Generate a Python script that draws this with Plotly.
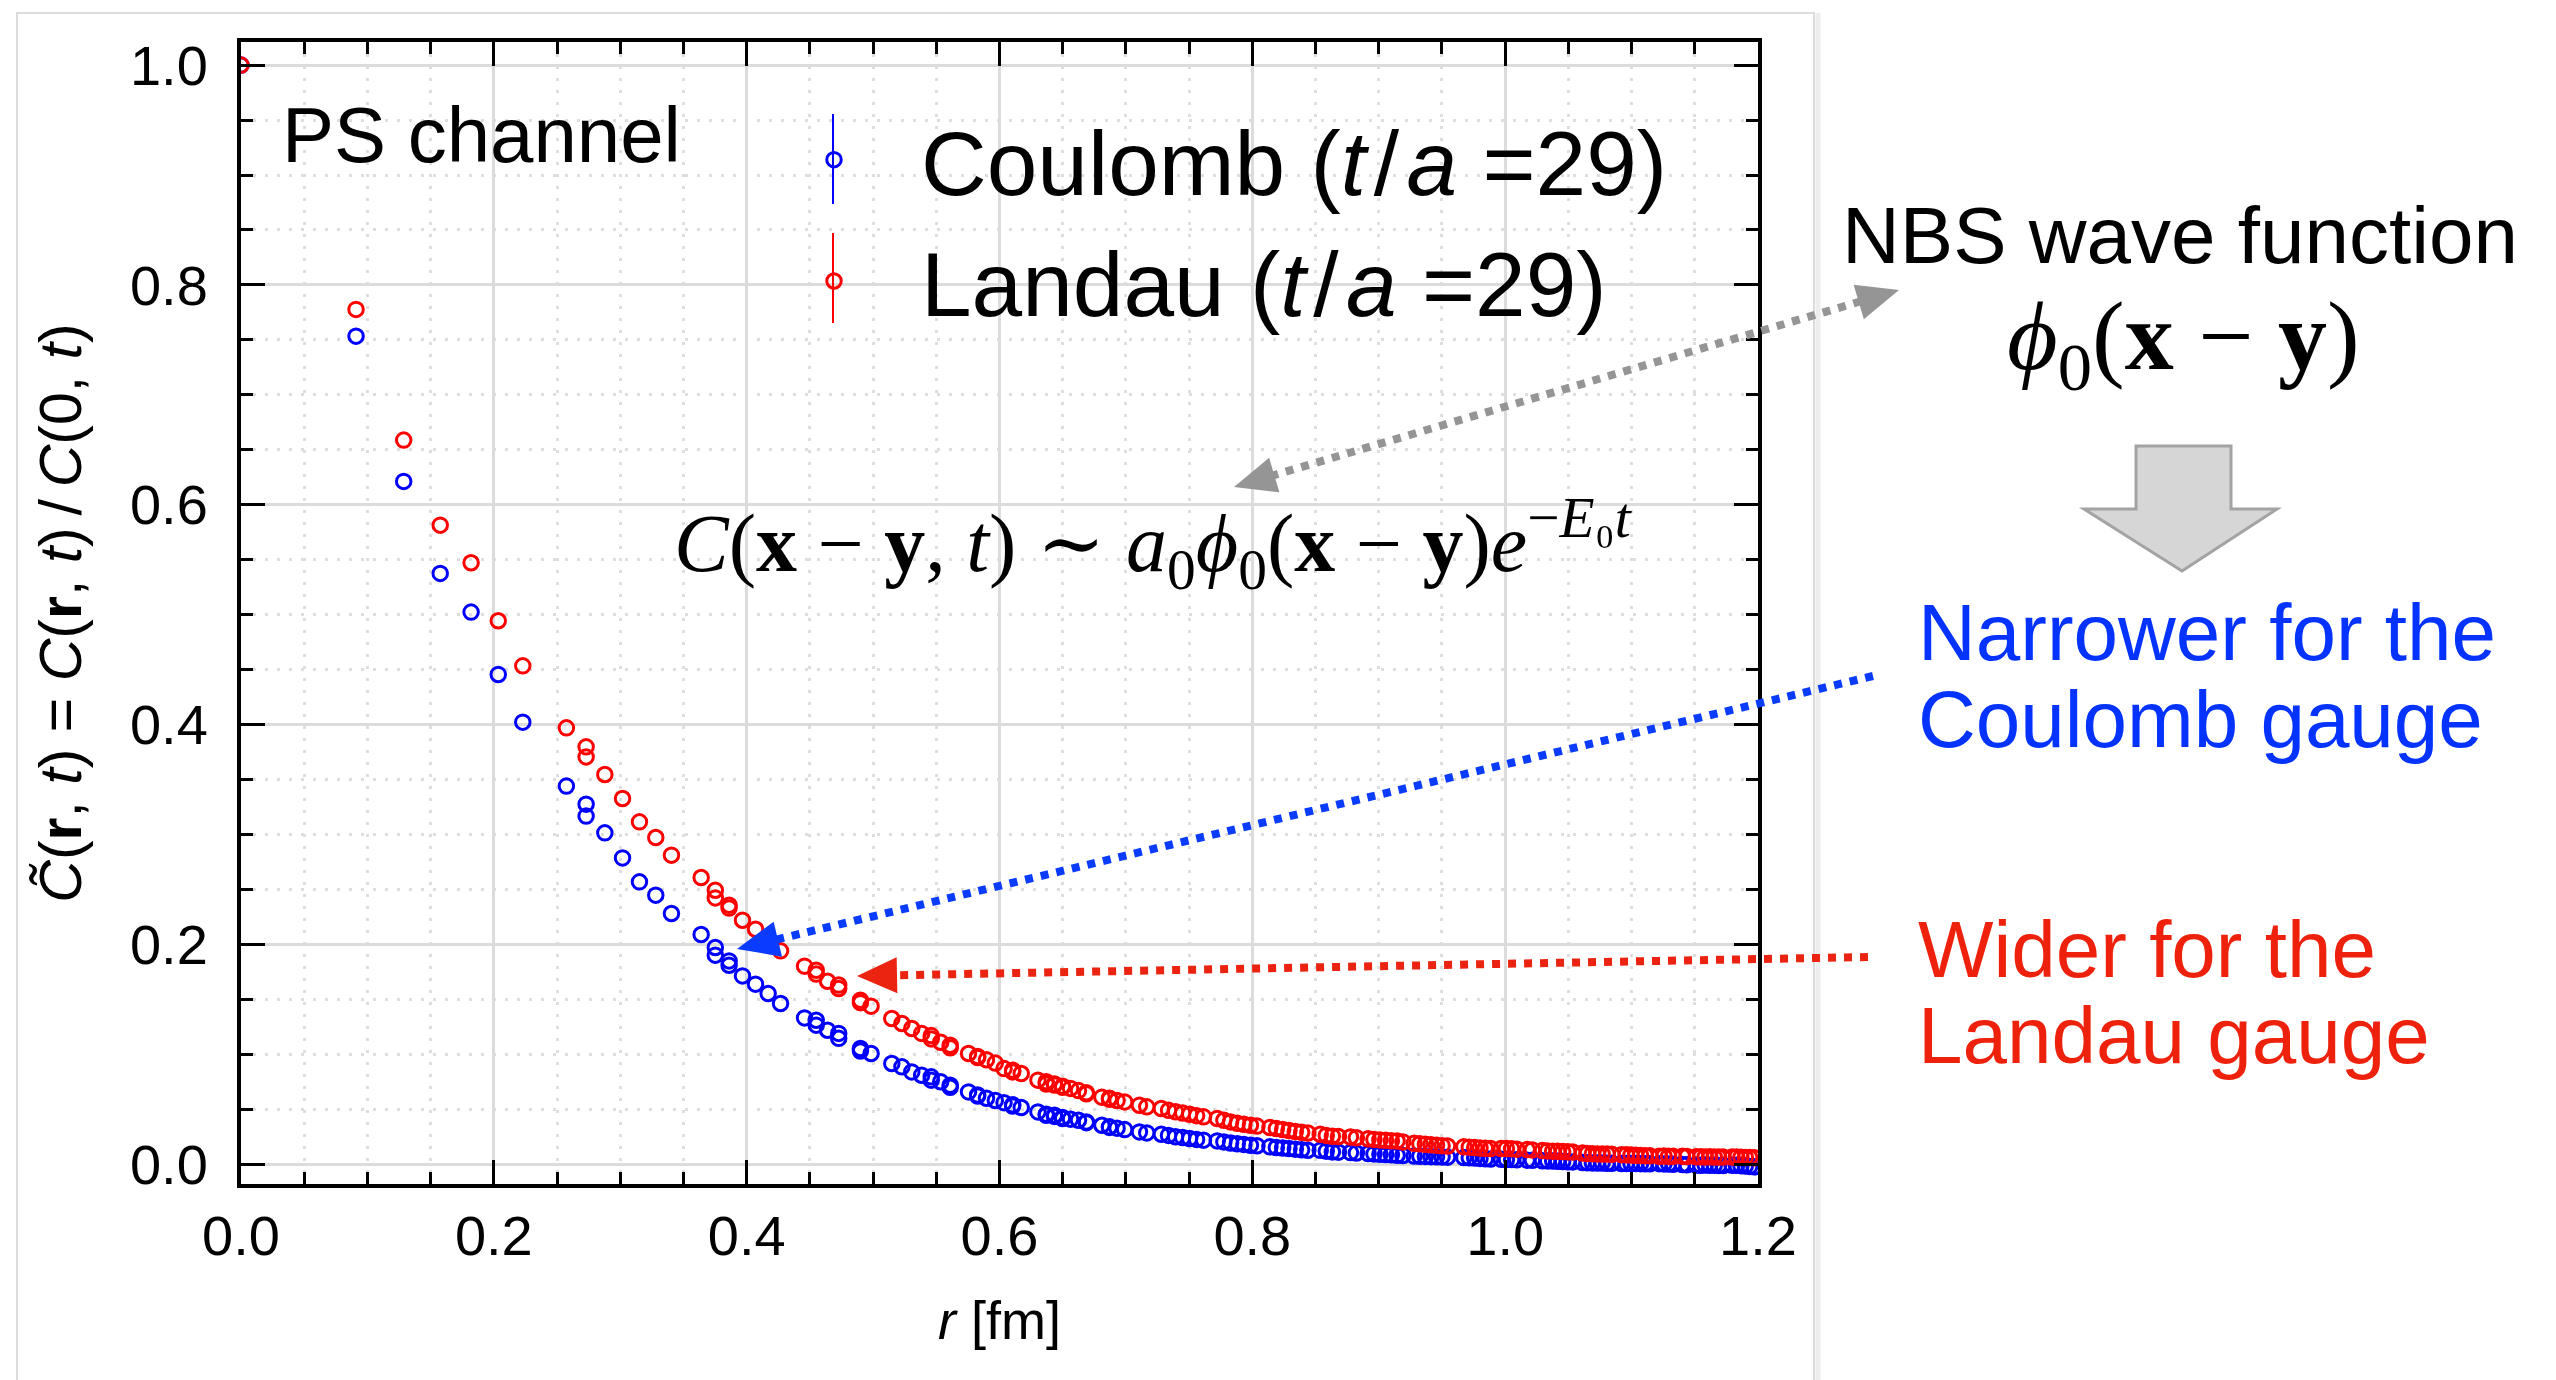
import math
import plotly.graph_objects as go

# ---------------- data ----------------
r_fm = [
    0.0, 0.091, 0.1287, 0.1576, 0.182, 0.2035, 0.2229, 0.2574, 0.273, 0.273,
    0.2878, 0.3018, 0.3152, 0.3281, 0.3405, 0.364, 0.3752, 0.3752, 0.3861, 0.3861,
    0.3967, 0.407, 0.417, 0.4268, 0.4458, 0.455, 0.455, 0.464, 0.4728, 0.4728,
    0.49, 0.49, 0.4984, 0.5148, 0.5228, 0.5306, 0.5384, 0.546, 0.546, 0.5535,
    0.561, 0.561, 0.5755, 0.5827, 0.5827, 0.5897, 0.5967, 0.6036, 0.6104, 0.6104,
    0.6172, 0.6304, 0.637, 0.637, 0.6435, 0.6435, 0.6499, 0.6499, 0.6562, 0.6625,
    0.6687, 0.6687, 0.681, 0.687, 0.687, 0.693, 0.699, 0.7107, 0.7165, 0.728,
    0.7337, 0.7393, 0.7449, 0.7504, 0.7559, 0.7614, 0.7722, 0.7775, 0.7828, 0.7881,
    0.7933, 0.7985, 0.8037, 0.8139, 0.819, 0.824, 0.829, 0.834, 0.839, 0.8439,
    0.8537, 0.8585, 0.8633, 0.8681, 0.8776, 0.8823, 0.8916, 0.8962, 0.9009, 0.9054,
    0.91, 0.9145, 0.9191, 0.928, 0.9325, 0.9369, 0.9413, 0.9457, 0.9501, 0.9544,
    0.9673, 0.9716, 0.9759, 0.9801, 0.9843, 0.9885, 0.9969, 1.001, 1.0051, 1.0092,
    1.0174, 1.0215, 1.0295, 1.0336, 1.0376, 1.0415, 1.0455, 1.0495, 1.0534, 1.0612,
    1.0651, 1.069, 1.0729, 1.0767, 1.0806, 1.0844, 1.092, 1.0958, 1.0995, 1.1033,
    1.1071, 1.1108, 1.1145, 1.1219, 1.1256, 1.1293, 1.1329, 1.1402, 1.1438, 1.1511,
    1.1546, 1.1582, 1.1618, 1.1654, 1.1689, 1.1724, 1.1795, 1.183, 1.1865, 1.19,
    1.1934, 1.1969,
]

landau = [
    1.0, 0.7777, 0.6588, 0.5814, 0.5472, 0.4944, 0.4534, 0.397, 0.3797, 0.3706,
    0.3546, 0.3327, 0.3115, 0.2972, 0.2812, 0.2609, 0.2493, 0.2423, 0.2357, 0.233,
    0.222, 0.2138, 0.2054, 0.1941, 0.1802, 0.1765, 0.173, 0.1665, 0.163, 0.1599,
    0.1492, 0.147, 0.1438, 0.1326, 0.128, 0.1235, 0.119, 0.117, 0.114, 0.111,
    0.1083, 0.106, 0.1007, 0.098, 0.097, 0.095, 0.092, 0.087, 0.0855, 0.084,
    0.0825, 0.0765, 0.075, 0.073, 0.073, 0.072, 0.070, 0.071, 0.069, 0.067,
    0.065, 0.064, 0.061, 0.060, 0.059, 0.058, 0.0567, 0.0537, 0.0522, 0.0507,
    0.049, 0.0477, 0.0466, 0.0455, 0.0442, 0.0431, 0.0416, 0.040, 0.0385, 0.0372,
    0.0364, 0.0355, 0.0347, 0.0334, 0.0325, 0.0316, 0.0307, 0.0298, 0.029, 0.0284,
    0.0273, 0.0262, 0.0255, 0.0252, 0.0248, 0.0241, 0.0232, 0.0226, 0.0221, 0.0217,
    0.0213, 0.0211, 0.0203, 0.019, 0.0186, 0.0182, 0.0177, 0.0173, 0.0169, 0.0166,
    0.0158, 0.0155, 0.0151, 0.0148, 0.0145, 0.0143, 0.0143, 0.0142, 0.014, 0.0137,
    0.0133, 0.013, 0.0124, 0.0121, 0.0119, 0.0117, 0.0115, 0.0113, 0.0111, 0.0102,
    0.0098, 0.0096, 0.0094, 0.0093, 0.0092, 0.009, 0.0087, 0.0085, 0.0083, 0.0082,
    0.008, 0.0078, 0.0076, 0.0073, 0.0074, 0.0072, 0.0073, 0.0072, 0.007, 0.0068,
    0.0067, 0.0066, 0.0067, 0.0066, 0.0065, 0.0066, 0.0065, 0.0066, 0.0063, 0.0062,
    0.006, 0.0059,
]

coulomb = [
    1.0, 0.7534, 0.6212, 0.5375, 0.5023, 0.4456, 0.4022, 0.344, 0.3276, 0.3167,
    0.3015, 0.2787, 0.2569, 0.2448, 0.2281, 0.209, 0.1972, 0.1902, 0.185, 0.181,
    0.1713, 0.1638, 0.1553, 0.1462, 0.1331, 0.131, 0.1265, 0.1219, 0.119, 0.1145,
    0.1053, 0.103, 0.1007, 0.0916, 0.0886, 0.084, 0.081, 0.0795, 0.0765, 0.075,
    0.0719, 0.070, 0.0658, 0.063, 0.062, 0.060, 0.058, 0.056, 0.054, 0.053,
    0.0516, 0.0476, 0.0455, 0.0445, 0.0446, 0.0435, 0.0416, 0.0425, 0.041, 0.040,
    0.0385, 0.0378, 0.0355, 0.034, 0.0335, 0.0328, 0.0315, 0.0294, 0.0285, 0.0273,
    0.0262, 0.025, 0.0242, 0.0234, 0.0226, 0.0219, 0.0212, 0.0203, 0.0193, 0.0186,
    0.018, 0.0173, 0.0168, 0.0158, 0.0152, 0.0147, 0.0142, 0.0137, 0.0132, 0.0127,
    0.0126, 0.0119, 0.0112, 0.011, 0.0106, 0.0102, 0.0097, 0.0094, 0.009, 0.0088,
    0.0085, 0.0082, 0.0079, 0.0074, 0.0073, 0.0071, 0.0069, 0.0067, 0.0066, 0.0064,
    0.0061, 0.0059, 0.0056, 0.0053, 0.005, 0.0048, 0.0045, 0.0043, 0.0042, 0.004,
    0.0037, 0.0035, 0.0032, 0.003, 0.0029, 0.0027, 0.0025, 0.0023, 0.0021, 0.0016,
    0.0013, 0.0012, 0.0011, 0.001, 0.0009, 0.0008, 0.0007, 0.0006, 0.0006, 0.0006,
    0.0005, 0.0004, 0.0004, 0.0005, 0.0003, 0.0002, 0.0, -0.0003, -0.0005, -0.0007,
    -0.0009, -0.0008, -0.001, -0.0009, -0.0011, -0.0012, -0.001, -0.0009, -0.0013, -0.0016,
    -0.002, -0.0024,
]

series_names = ["Coulomb (<i>t</i>\u200a/\u200a<i>a</i> =29)",
                "Landau (<i>t</i>\u200a/\u200a<i>a</i> =29)"]
x_ticks = [0.0, 0.2, 0.4, 0.6, 0.8, 1.0, 1.2]
y_ticks = [0.0, 0.2, 0.4, 0.6, 0.8, 1.0]

# ---------------- layout helpers ----------------
W, H = 2556, 1380
PL, PR, PT, PB = 241, 1758, 42, 1184
SANS = "Liberation Sans, Arial, Helvetica, sans-serif"
SERIF = "Liberation Serif, Times New Roman, DejaVu Serif, serif"


def px(x):
    return (x - PL) / (PR - PL)


def py(y):
    return (PB - y) / (PB - PT)


def arrow_head(tip, tail, length, width):
    dx, dy = tip[0] - tail[0], tip[1] - tail[1]
    n = math.hypot(dx, dy)
    ux, uy = dx / n, dy / n
    bx, by = tip[0] - ux * length, tip[1] - uy * length
    nx, ny = -uy, ux
    p1 = (bx + nx * width / 2, by + ny * width / 2)
    p2 = (bx - nx * width / 2, by - ny * width / 2)
    path = (f"M {px(tip[0])},{py(tip[1])} L {px(p1[0])},{py(p1[1])} "
            f"L {px(p2[0])},{py(p2[1])} Z")
    return path, (bx + ux * 4, by + uy * 4)


fig = go.Figure()
fig.add_trace(go.Scatter(
    x=r_fm, y=coulomb, mode="markers", name=series_names[0],
    marker=dict(symbol="circle-open", size=14.5, color="#0000ff",
                line=dict(width=3, color="#0000ff")),
))
fig.add_trace(go.Scatter(
    x=r_fm, y=landau, mode="markers", name=series_names[1],
    marker=dict(symbol="circle-open", size=14.5, color="#ff0000",
                line=dict(width=3, color="#ff0000")),
))

axis_common = dict(
    showline=True, linecolor="black", linewidth=4, mirror="ticks",
    ticks="inside", ticklen=24, tickwidth=3, tickcolor="black",
    showgrid=True, gridcolor="#dcdcdc", gridwidth=3, zeroline=False,
    tickfont=dict(family=SANS, size=56, color="black"),
    minor=dict(dtick=0.05, tick0=0, ticks="inside", ticklen=12, tickwidth=3,
               tickcolor="black", showgrid=True, gridcolor="#dedede",
               gridwidth=3, griddash="3px,9px"),
)

fig.update_xaxes(
    range=[0, 1.2], tickvals=x_ticks, ticktext=[f"{v:.1f}" for v in x_ticks],
    ticklabelstandoff=0,
    title=dict(text="<i>r</i> [fm]", font=dict(family=SANS, size=54, color="black"),
               standoff=36),
    **axis_common,
)
fig.update_yaxes(
    range=[-0.018, 1.021], tickvals=y_ticks, ticktext=[f"{v:.1f}" for v in y_ticks],
    ticklabelstandoff=18,
    title=dict(text="<i>C̃</i>(<b>r</b>, <i>t</i>) = <i>C</i>(<b>r</b>, <i>t</i>)\u2009/\u2009<i>C</i>(0, <i>t</i>)",
               font=dict(family=SANS, size=59, color="black"), standoff=30),
    **axis_common,
)

shapes = []
# panel frame
shapes.append(dict(type="rect", xref="paper", yref="paper", layer="below",
                   x0=px(17), x1=px(1814), y0=py(13), y1=py(1420),
                   line=dict(color="#dcdcdc", width=2), fillcolor="rgba(0,0,0,0)"))
shapes.append(dict(type="line", xref="paper", yref="paper", layer="below",
                   x0=px(1818), x1=px(1818), y0=py(13), y1=py(1420),
                   line=dict(color="#eeeeee", width=5)))

# legend error-bar lines
leg_marker_x = 833
for yc, col in [(159, "#0000ff"), (278, "#ff0000")]:
    shapes.append(dict(type="line", xref="paper", yref="paper",
                       x0=px(leg_marker_x), x1=px(leg_marker_x),
                       y0=py(yc - 45), y1=py(yc + 45),
                       line=dict(color=col, width=2)))

# dotted arrows
GRAY, BLUE, RED = "#959595", "#0a3cff", "#ea2410"
# gray double-headed
g1, g2 = (1234, 487), (1899, 290)
h1, b1 = arrow_head(g1, g2, 42, 36)
h2, b2 = arrow_head(g2, g1, 42, 36)
shapes.append(dict(type="line", xref="paper", yref="paper",
                   x0=px(b1[0]), y0=py(b1[1]), x1=px(b2[0]), y1=py(b2[1]),
                   line=dict(color=GRAY, width=8, dash="dot")))
shapes.append(dict(type="path", xref="paper", yref="paper", path=h1,
                   fillcolor=GRAY, line=dict(width=0)))
shapes.append(dict(type="path", xref="paper", yref="paper", path=h2,
                   fillcolor=GRAY, line=dict(width=0)))
# blue
bt, btail = (737, 949), (1873, 676)
hb, bb = arrow_head(bt, btail, 42, 36)
shapes.append(dict(type="line", xref="paper", yref="paper",
                   x0=px(btail[0]), y0=py(btail[1]), x1=px(bb[0]), y1=py(bb[1]),
                   line=dict(color=BLUE, width=8, dash="dot")))
shapes.append(dict(type="path", xref="paper", yref="paper", path=hb,
                   fillcolor=BLUE, line=dict(width=0)))
# red
rt, rtail = (857, 976), (1868, 957)
hr, rb = arrow_head(rt, rtail, 40, 36)
shapes.append(dict(type="line", xref="paper", yref="paper",
                   x0=px(rtail[0]), y0=py(rtail[1]), x1=px(rb[0]), y1=py(rb[1]),
                   line=dict(color=RED, width=8, dash="dot")))
shapes.append(dict(type="path", xref="paper", yref="paper", path=hr,
                   fillcolor=RED, line=dict(width=0)))

# block arrow (down)
blk = [(2136, 446), (2231, 446), (2231, 509), (2277, 509), (2182, 571),
       (2084, 509), (2136, 509)]
blk_path = "M " + " L ".join(f"{px(a)},{py(b)}" for a, b in blk) + " Z"
shapes.append(dict(type="path", xref="paper", yref="paper", path=blk_path,
                   fillcolor="#d6d6d6", line=dict(color="#a3a3a3", width=3)))

annotations = []


def add_text(text, x, y, size, family=SANS, color="black", xanchor="left"):
    annotations.append(dict(text=text, x=px(x), y=py(y), xref="paper", yref="paper",
                            xanchor=xanchor, yanchor="middle", showarrow=False,
                            font=dict(family=family, size=size, color=color)))


add_text("PS channel", 280, 135, 78)
add_text("<i>C</i>(<b>x</b> − <b>y</b>, <i>t</i>) ∼ <i>a</i><sub>0</sub><i>ϕ</i><sub>0</sub>"
         "(<b>x</b> − <b>y</b>)<i>e</i><sup>−<i>E</i>₀<i>t</i></sup>",
         672, 543, 82, family=SERIF)
add_text("NBS wave function", 1840, 236, 80)
add_text("<i>ϕ</i><sub>0</sub>(<b>x</b> − <b>y</b>)", 2183, 343, 98, family=SERIF,
         xanchor="center")
add_text("Narrower for the", 1916, 632, 80, color="#0433ff")
add_text("Coulomb gauge", 1916, 719, 80, color="#0433ff")
add_text("Wider for the", 1916, 949, 80, color="#ee220c")
add_text("Landau gauge", 1916, 1035, 80, color="#ee220c")

fig.update_layout(
    width=W, height=H,
    margin=dict(l=PL, r=W - PR, t=PT, b=H - PB, autoexpand=False),
    paper_bgcolor="white", plot_bgcolor="white",
    showlegend=True,
    legend=dict(x=px(747), y=py(94), xanchor="left", yanchor="top",
                font=dict(family=SANS, size=91, color="black"),
                bgcolor="rgba(0,0,0,0)", borderwidth=0, itemwidth=164,
                tracegroupgap=0),
    shapes=shapes,
    annotations=annotations,
)

fig.write_html("out.html")
